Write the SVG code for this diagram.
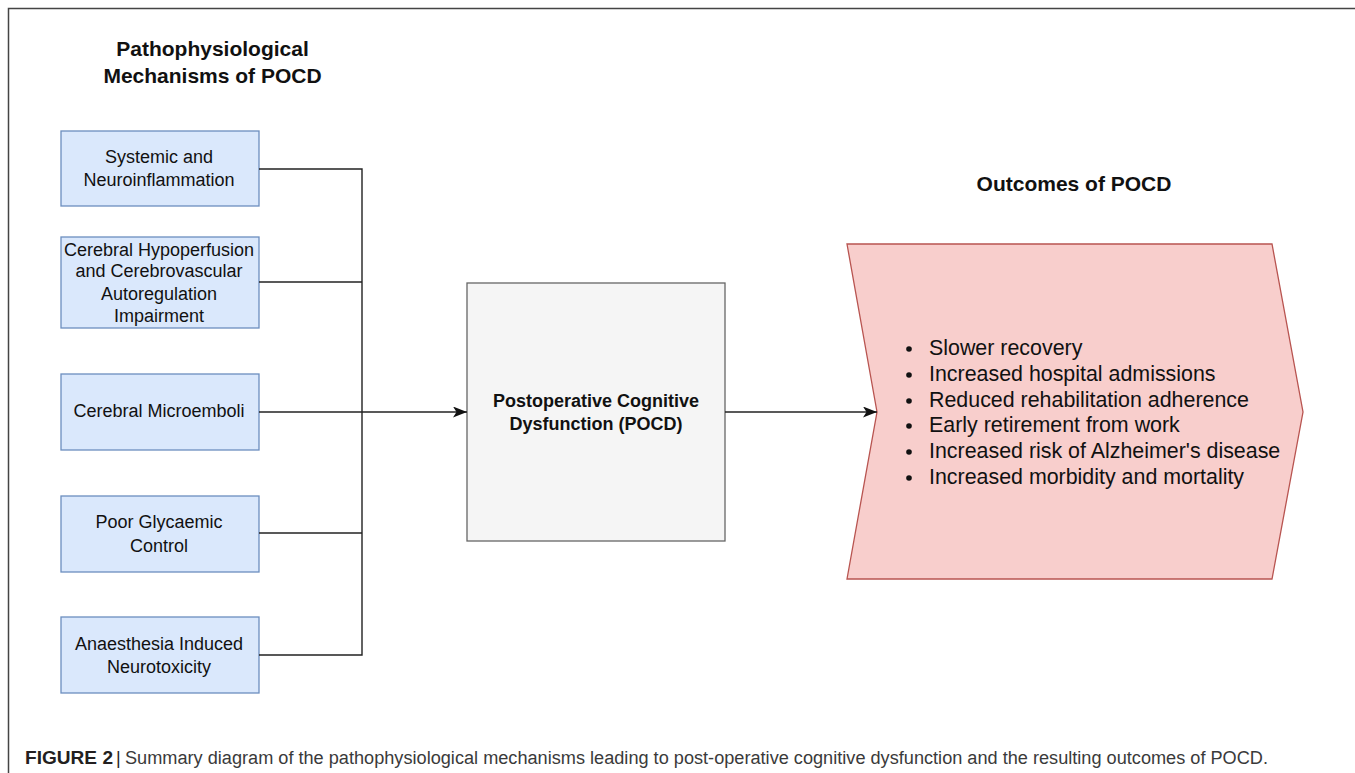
<svg xmlns="http://www.w3.org/2000/svg" width="1355" height="773" viewBox="0 0 1355 773">
<defs>
<style>
.mech rect{fill:#dae8fc;stroke:#6c8ebf;stroke-width:1.3}
.t{font-family:"Liberation Sans",Arial,sans-serif;fill:#111}
.box{font-size:18px}
.hd{font-size:21px;font-weight:bold}
.li{font-size:21.4px}
.conn{fill:none;stroke:#222;stroke-width:1.4}
</style>
<marker id="arr" viewBox="0 0 14 11" refX="14" refY="5.5" markerWidth="14" markerHeight="11" markerUnits="userSpaceOnUse" orient="auto">
<path d="M0,0 L14,5.5 L0,11 L3.5,5.5 Z" fill="#111"/>
</marker>
</defs>
<rect width="1355" height="773" fill="#fff"/>
<path d="M8.5,773 V8.5 H1355" fill="none" stroke="#444" stroke-width="1.5"/>

<g id="title-left"><text class="t hd" text-anchor="middle" x="212.5" y="56">Pathophysiological</text><text class="t hd" text-anchor="middle" x="212.5" y="83">Mechanisms of POCD</text></g>
<g id="title-right"><text class="t hd" text-anchor="middle" x="1074" y="191">Outcomes of POCD</text></g>

<g id="n1" class="mech"><rect x="61" y="131" width="198" height="75"/><text class="t box" text-anchor="middle" x="159" y="163">Systemic and</text><text class="t box" text-anchor="middle" x="159" y="186">Neuroinflammation</text></g>
<g id="n2" class="mech"><rect x="61" y="237" width="198" height="91"/><text class="t box" text-anchor="middle" x="159" y="256">Cerebral Hypoperfusion</text><text class="t box" text-anchor="middle" x="159" y="277">and Cerebrovascular</text><text class="t box" text-anchor="middle" x="159" y="300">Autoregulation</text><text class="t box" text-anchor="middle" x="159" y="322">Impairment</text></g>
<g id="n3" class="mech"><rect x="61" y="374" width="198" height="76"/><text class="t box" text-anchor="middle" x="159" y="417">Cerebral Microemboli</text></g>
<g id="n4" class="mech"><rect x="61" y="496" width="198" height="76"/><text class="t box" text-anchor="middle" x="159" y="528">Poor Glycaemic</text><text class="t box" text-anchor="middle" x="159" y="552">Control</text></g>
<g id="n5" class="mech"><rect x="61" y="617" width="198" height="76"/><text class="t box" text-anchor="middle" x="159" y="650">Anaesthesia Induced</text><text class="t box" text-anchor="middle" x="159" y="673">Neurotoxicity</text></g>

<g id="pocd"><rect x="467" y="283" width="258" height="258" fill="#f5f5f5" stroke="#666" stroke-width="1.3"/><text class="t" font-size="18" font-weight="bold" text-anchor="middle" x="596" y="407" fill="#222">Postoperative Cognitive</text><text class="t" font-size="18" font-weight="bold" text-anchor="middle" x="596" y="430" fill="#222">Dysfunction (POCD)</text></g>

<g id="outcomes"><polygon points="847,244 1272,244 1303,412 1272,579 847,579 877,412" fill="#f8cecc" stroke="#b85450" stroke-width="1.3"/>
<g>
<circle cx="909" cy="349" r="2.8" fill="#111"/><text class="t li" x="929" y="355">Slower recovery</text>
<circle cx="909" cy="375" r="2.8" fill="#111"/><text class="t li" x="929" y="381">Increased hospital admissions</text>
<circle cx="909" cy="401" r="2.8" fill="#111"/><text class="t li" x="929" y="407">Reduced rehabilitation adherence</text>
<circle cx="909" cy="426" r="2.8" fill="#111"/><text class="t li" x="929" y="432">Early retirement from work</text>
<circle cx="909" cy="452" r="2.8" fill="#111"/><text class="t li" x="929" y="458">Increased risk of Alzheimer's disease</text>
<circle cx="909" cy="478" r="2.8" fill="#111"/><text class="t li" x="929" y="484">Increased morbidity and mortality</text>
</g></g>

<g id="connectors">
<path class="conn" d="M259,169 H362 V655 H259"/>
<path class="conn" d="M259,282 H362"/>
<path class="conn" d="M259,533 H362"/>
<path class="conn" d="M259,412 H467" marker-end="url(#arr)"/>
<path class="conn" d="M725,412 H877" marker-end="url(#arr)"/>
</g>

<g id="caption">
<text x="25" y="764" font-family="'Liberation Sans',Arial,sans-serif" font-size="18" font-weight="bold" fill="#231f20" textLength="88" lengthAdjust="spacingAndGlyphs">FIGURE 2</text>
<text x="116" y="764" font-family="'Liberation Sans',Arial,sans-serif" font-size="18" fill="#231f20">|</text>
<text x="125" y="764" font-family="'Liberation Sans',Arial,sans-serif" font-size="18" fill="#3a3a3a" textLength="1143" lengthAdjust="spacingAndGlyphs">Summary diagram of the pathophysiological mechanisms leading to post-operative cognitive dysfunction and the resulting outcomes of POCD.</text>
</g>
</svg>
